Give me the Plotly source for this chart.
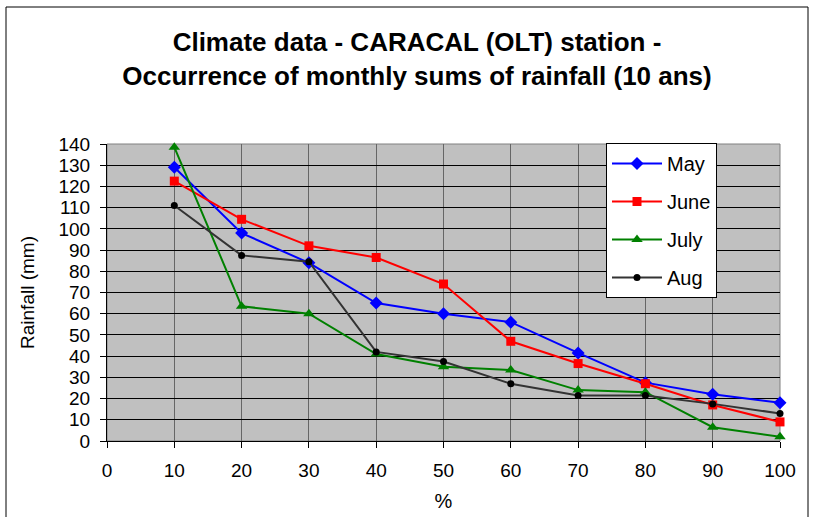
import plotly.graph_objects as go

pct = [10, 20, 30, 40, 50, 60, 70, 80, 90, 100]
may = [129, 98, 84, 65, 60, 56, 41.5, 27.5, 22, 18]
june = [122.5, 104.5, 92, 86.5, 74, 47, 36.5, 27, 17, 9]
july = [138.5, 63.5, 60, 41, 35, 33.5, 24, 23, 6.5, 2]
aug = [111, 87.5, 84.5, 42, 37.5, 27, 21.5, 21.5, 17.5, 13]

series = [
    ("May", may, "#0000FF", "#0000FF", "diamond", 10),
    ("June", june, "#FF0000", "#FF0000", "square", 9),
    ("July", july, "#008000", "#008000", "triangle-up", 10),
    ("Aug", aug, "#333333", "#000000", "circle", 7),
]

W, H = 814, 517
L, R, T, B = 107, 34, 144, 76

fig = go.Figure()
for name, vals, lc, mc, sym, sz in series:
    fig.add_trace(go.Scatter(
        x=pct, y=vals, name=name, mode="lines+markers",
        legendgroup=name,
        line=dict(color=lc, width=2),
        marker=dict(color=mc, symbol=sym, size=sz, line=dict(width=0)),
        cliponaxis=False,
    ))

pw = W - L - R
ph = H - T - B
def px(x):
    return (x - L) / pw
def py(y):
    return (H - B - y) / ph

FONT = "Liberation Sans, Arial, sans-serif"

fig.update_layout(
    width=W, height=H,
    margin=dict(l=L, r=R, t=T, b=B, autoexpand=False),
    paper_bgcolor="white",
    plot_bgcolor="#C0C0C0",
    font=dict(family=FONT, color="black", size=19),
    title=dict(
        text="Climate data - CARACAL (OLT) station -<br>Occurrence of monthly sums of rainfall (10 ans)",
        x=417 / W, xref="container", xanchor="center",
        y=1 - 51 / H, yref="container", yanchor="middle",
        font=dict(size=26, family=FONT, color="black", weight="bold"),
    ),
    xaxis=dict(
        range=[0, 100], dtick=10, tick0=0,
        showgrid=True, gridcolor="#666666", gridwidth=1,
        showline=True, linecolor="black", linewidth=1,
        ticks="outside", ticklen=6, tickcolor="black",
        ticklabelstandoff=6, automargin=False,
        zeroline=False,
        title=dict(text="%", font=dict(size=20), standoff=14),
        tickfont=dict(size=19),
    ),
    yaxis=dict(
        range=[0, 140], dtick=10, tick0=0,
        showgrid=True, gridcolor="black", gridwidth=1,
        showline=True, linecolor="black", linewidth=1,
        ticks="outside", ticklen=6, tickcolor="black",
        ticklabelstandoff=6, automargin=False,
        zeroline=False,
        title=dict(text="Rainfall (mm)", font=dict(size=19), standoff=18),
        tickfont=dict(size=19),
    ),
    legend=dict(
        x=px(606), y=py(143), xanchor="left", yanchor="top",
        bgcolor="white", bordercolor="black", borderwidth=1,
        font=dict(size=20), itemwidth=50, tracegroupgap=9,
    ),
    showlegend=True,
)

# plot-area border (gray)
fig.add_shape(type="rect", xref="paper", yref="paper", x0=0, x1=1, y0=0, y1=1,
              line=dict(color="#808080", width=1), layer="below")
# chart-area border
fig.add_shape(type="rect", xref="paper", yref="paper",
              x0=px(6), x1=px(808), y0=py(540), y1=py(7),
              line=dict(color="black", width=1))

fig.write_html("out.html", config={"displayModeBar": False},
               post_script="document.body.style.margin='0';")
